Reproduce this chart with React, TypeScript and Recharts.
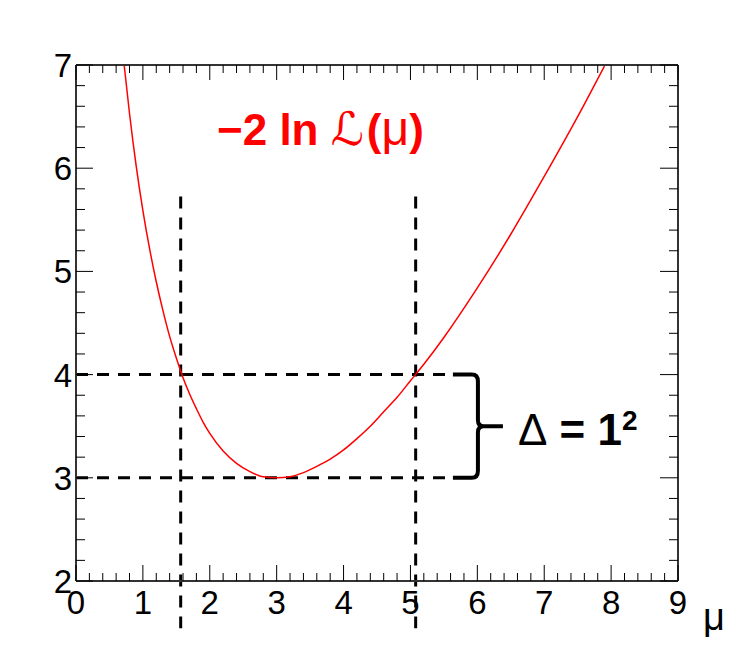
import React from 'react';
import { LineChart, Line, XAxis, YAxis, ReferenceLine, Customized } from 'recharts';

// ---- data ----
const muValues = [0.72, 0.8, 0.9, 1.0, 1.1, 1.2, 1.3, 1.4, 1.5, 1.6, 1.7, 1.8, 1.9, 2.0, 2.2, 2.4, 2.6, 2.8, 3.0, 3.2, 3.4, 3.6, 3.8, 4.0, 4.2, 4.4, 4.6, 4.8, 5.0, 5.2, 5.5, 6.0, 6.5, 7.0, 7.5, 7.9];
const nllValues = [7.0, 6.53, 6.02, 5.59, 5.22, 4.9, 4.62, 4.37, 4.16, 3.97, 3.81, 3.67, 3.54, 3.43, 3.26, 3.14, 3.06, 3.01, 3.0, 3.01, 3.05, 3.11, 3.18, 3.27, 3.38, 3.5, 3.64, 3.78, 3.94, 4.1, 4.36, 4.84, 5.36, 5.92, 6.5, 6.99];

const xDomain = [0, 9];
const yDomain = [2, 7];
const xMajorTickLabels = [0, 1, 2, 3, 4, 5, 6, 7, 8, 9];
const yMajorTickLabels = [2, 3, 4, 5, 6, 7];

const levels = [4, 3]; // minimum + 1, and minimum
const intervalBounds = [1.565, 5.078];
const verticalSpan = [5.725, 1.542];
const horizontalEnd = 5.635;

const data = muValues.map((mu, i) => ({ mu, nll: nllValues[i] }));

const xTicks: number[] = [];
for (let i = 0; i <= 45; i++) xTicks.push(Math.round(i * 2) / 10);
const yTicks: number[] = [];
for (let i = 0; i <= 25; i++) yTicks.push(2 + Math.round(i * 2) / 10);

const FONT = '"Liberation Sans", Arial, Helvetica, sans-serif';
const isMajor = (v: number) => Math.abs(v - Math.round(v)) < 1e-6;

const BottomTick = (props: any) => {
  const { x, y, payload } = props;
  const v = payload.value;
  const major = isMajor(v);
  return (
    <g>
      <line x1={x} x2={x} y1={y} y2={y - (major ? 16 : 8)} stroke="#000" strokeWidth={1} />
      {major && xMajorTickLabels.includes(Math.round(v)) && (
        <text x={x} y={y + 33} textAnchor="middle" fontSize={33} fontFamily={FONT} fill="#000">
          {Math.round(v)}
        </text>
      )}
    </g>
  );
};

const TopTick = (props: any) => {
  const { x, y, payload } = props;
  const major = isMajor(payload.value);
  return <line x1={x} x2={x} y1={y} y2={y + (major ? 15 : 8)} stroke="#000" strokeWidth={1} />;
};

const LeftTick = (props: any) => {
  const { x, y, payload } = props;
  const v = payload.value;
  const major = isMajor(v);
  return (
    <g>
      <line x1={x} x2={x + (major ? 17 : 9)} y1={y} y2={y} stroke="#000" strokeWidth={1} />
      {major && yMajorTickLabels.includes(Math.round(v)) && (
        <text x={x - 4} y={y + 12} textAnchor="end" fontSize={33} fontFamily={FONT} fill="#000">
          {Math.round(v)}
        </text>
      )}
    </g>
  );
};

const RightTick = (props: any) => {
  const { x, y, payload } = props;
  const major = isMajor(payload.value);
  return <line x1={x} x2={x - (major ? 18 : 9)} y1={y} y2={y} stroke="#000" strokeWidth={1} />;
};

const BraceShape = (props: any) => {
  const { x1, y1, y2 } = props;
  const x0 = x1;
  const top = Math.min(y1, y2);
  const bot = Math.max(y1, y2);
  const ym = (top + bot) / 2;
  const d = [
    `M ${x0} ${top}`,
    `L ${x0 + 19} ${top}`,
    `Q ${x0 + 25} ${top} ${x0 + 25} ${top + 7}`,
    `L ${x0 + 25} ${ym - 6}`,
    `Q ${x0 + 25} ${ym} ${x0 + 31} ${ym}`,
    `L ${x0 + 50} ${ym}`,
    `M ${x0 + 31} ${ym}`,
    `Q ${x0 + 25} ${ym} ${x0 + 25} ${ym + 6}`,
    `L ${x0 + 25} ${bot - 7}`,
    `Q ${x0 + 25} ${bot} ${x0 + 19} ${bot}`,
    `L ${x0} ${bot}`,
  ].join(' ');
  return (
    <g>
      <path d={d} fill="none" stroke="#000" strokeWidth={4} strokeLinecap="butt" strokeLinejoin="round" />
      <text x={x0 + 65} y={ym + 18.5} fontFamily={FONT} fontSize={44} fill="#000">
        <tspan fontWeight="normal">Δ</tspan>
        <tspan fontWeight="bold"> = 1</tspan>
        <tspan fontWeight="bold" fontSize={28} dy={-15}>2</tspan>
      </text>
    </g>
  );
};

const Annotations = () => (
  <g>
    <text x={217} y={145} fontFamily={FONT} fontSize={44} fill="#ff0000">
      <tspan fontWeight="bold">−2 ln </tspan>
      <tspan fontStyle="italic" fontFamily='"DejaVu Serif", "DejaVu Sans", serif' fontSize={46}>ℒ</tspan>
      <tspan fontWeight="bold" dx={3}>(</tspan>
      <tspan fontSize={48}>μ</tspan>
      <tspan fontWeight="bold">)</tspan>
    </text>
    <text x={703} y={630} fontFamily={FONT} fontSize={38} fill="#000">μ</text>
  </g>
);

const frame = { stroke: '#333', strokeWidth: 2 };

export default function App() {
  return (
    <div style={{ position: 'absolute', left: 0, top: 0, width: 755, height: 668, background: '#fff' }}>
      <LineChart
        width={755}
        height={668}
        data={data}
        margin={{ top: 64, left: 75, right: 76, bottom: 86 }}
      >
        <XAxis
          xAxisId="b"
          type="number"
          dataKey="mu"
          domain={xDomain}
          ticks={xTicks}
          interval={0}
          tick={(p: any) => <BottomTick {...p} />}
          tickLine={false}
          axisLine={frame}
          tickSize={0}
          tickMargin={0}
          height={1}
          allowDataOverflow
        />
        <XAxis
          xAxisId="t"
          orientation="top"
          type="number"
          dataKey="mu"
          domain={xDomain}
          ticks={xTicks}
          interval={0}
          tick={(p: any) => <TopTick {...p} />}
          tickLine={false}
          axisLine={frame}
          tickSize={0}
          tickMargin={0}
          height={1}
          allowDataOverflow
        />
        <YAxis
          yAxisId="l"
          type="number"
          domain={yDomain}
          ticks={yTicks}
          interval={0}
          tick={(p: any) => <LeftTick {...p} />}
          tickLine={false}
          axisLine={frame}
          tickSize={0}
          tickMargin={0}
          width={1}
          allowDataOverflow
        />
        <YAxis
          yAxisId="r"
          orientation="right"
          type="number"
          domain={yDomain}
          ticks={yTicks}
          interval={0}
          tick={(p: any) => <RightTick {...p} />}
          tickLine={false}
          axisLine={frame}
          tickSize={0}
          tickMargin={0}
          width={1}
          allowDataOverflow
        />
        {levels.map((lv) => (
          <ReferenceLine
            key={'h' + lv}
            xAxisId="b"
            yAxisId="l"
            segment={[{ x: xDomain[0], y: lv }, { x: horizontalEnd, y: lv }]}
            stroke="#000"
            strokeWidth={3}
            strokeDasharray="12 9"
            ifOverflow="visible"
          />
        ))}
        {intervalBounds.map((b) => (
          <ReferenceLine
            key={'v' + b}
            xAxisId="b"
            yAxisId="l"
            segment={[{ x: b, y: verticalSpan[0] }, { x: b, y: verticalSpan[1] }]}
            stroke="#000"
            strokeWidth={3}
            strokeDasharray="12 9"
            ifOverflow="visible"
          />
        ))}
        <ReferenceLine
          xAxisId="b"
          yAxisId="l"
          segment={[{ x: horizontalEnd, y: levels[0] }, { x: horizontalEnd, y: levels[1] }]}
          ifOverflow="visible"
          shape={(p: any) => <BraceShape {...p} />}
        />
        <Line
          xAxisId="b"
          yAxisId="l"
          type="monotone"
          dataKey="nll"
          stroke="#ff0000"
          strokeWidth={1.5}
          dot={false}
          isAnimationActive={false}
        />
        <Customized component={Annotations} />
      </LineChart>
    </div>
  );
}
